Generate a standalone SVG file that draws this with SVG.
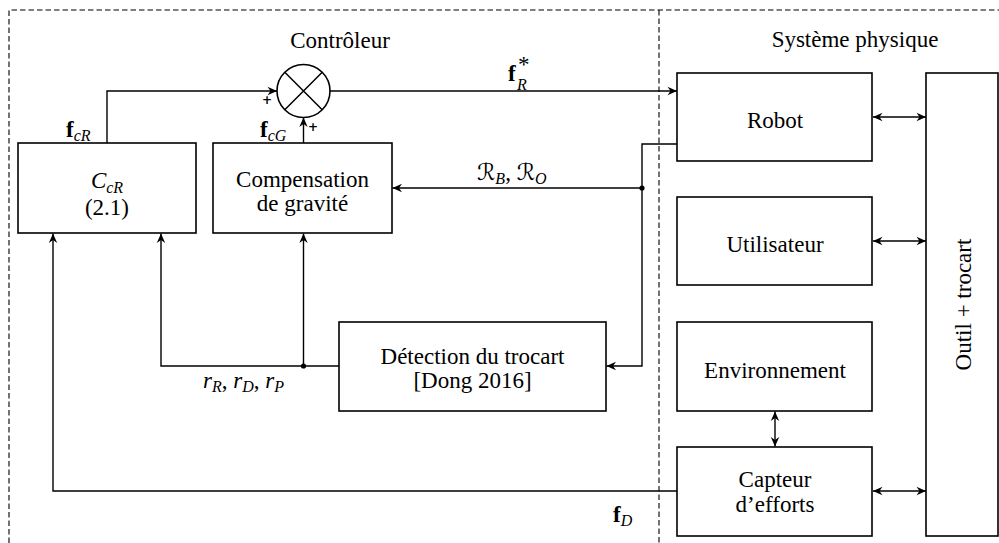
<svg xmlns="http://www.w3.org/2000/svg" width="999" height="543" viewBox="0 0 999 543" font-family="'Times New Roman', Tinos, 'Liberation Serif', 'Noto Serif', 'Nimbus Roman', FreeSerif, 'DejaVu Serif', Times, serif">
<style>
text{font-size:23px;fill:#000}
.box{fill:#fff;stroke:#000;stroke-width:1.6}
.c{text-anchor:middle}
.w{fill:none;stroke:#000;stroke-width:1.4}
.dash{fill:none;stroke:#000;stroke-width:1.1;stroke-dasharray:5.5,3}
.it{font-style:italic}
.sub{font-size:16px;font-style:italic}
.bf{font-weight:bold}
.pl{font-size:12px;font-weight:bold;font-family:'DejaVu Sans',sans-serif}
</style>
<defs>
<marker id="ah" viewBox="-10 -5 11 10" refX="0" refY="0" markerWidth="11" markerHeight="10" orient="auto-start-reverse" markerUnits="userSpaceOnUse">
<path d="M0,0 L-9.5,-4.2 L-6.5,0 L-9.5,4.2 Z" fill="#000"/>
</marker>
</defs>
<g id="frame">
<path class="dash" d="M9,543 V10 H999"/>
<path class="dash" d="M659,10 V543"/>
<text class="c" x="340" y="48">Contrôleur</text>
<text class="c" x="855" y="47">Système physique</text>
</g>
<g id="connectors">
<path class="w" d="M107,143 V91 H277" marker-end="url(#ah)"/>
<path class="w" d="M303.5,143 V117.5" marker-end="url(#ah)"/>
<path class="w" d="M330,91 H677" marker-end="url(#ah)"/>
<path class="w" d="M677,144 H642 V366 H606.5" marker-end="url(#ah)"/>
<path class="w" d="M642,188 H392.5" marker-end="url(#ah)"/>
<path class="w" d="M339,366 H161 V233.5" marker-end="url(#ah)"/>
<path class="w" d="M303.5,366 V233.5" marker-end="url(#ah)"/>
<path class="w" d="M677,491 H53 V233.5" marker-end="url(#ah)"/>
<path class="w" d="M873,117 H926" marker-start="url(#ah)" marker-end="url(#ah)"/>
<path class="w" d="M873,241 H926" marker-start="url(#ah)" marker-end="url(#ah)"/>
<path class="w" d="M873,491 H926" marker-start="url(#ah)" marker-end="url(#ah)"/>
<path class="w" d="M775,411.5 V446.5" marker-start="url(#ah)" marker-end="url(#ah)"/>
<circle cx="642" cy="188" r="2.6" fill="#000"/>
<circle cx="303.5" cy="366" r="2.6" fill="#000"/>
<text x="66" y="137"><tspan class="bf">f</tspan><tspan class="sub" dy="4">cR</tspan></text>
<text x="260" y="137"><tspan class="bf">f</tspan><tspan class="sub" dy="4">cG</tspan></text>
<text x="508" y="81"><tspan class="bf">f</tspan></text>
<text x="518" y="72" font-size="12px">*</text>
<text x="517" y="90" class="sub">R</text>
<text x="477" y="180"><tspan class="it" font-family="'DejaVu Serif', 'DejaVu Sans', serif">ℛ</tspan><tspan class="sub" dy="4">B</tspan><tspan dy="-4">, </tspan><tspan class="it" font-family="'DejaVu Serif', 'DejaVu Sans', serif">ℛ</tspan><tspan class="sub" dy="4">O</tspan></text>
<text x="203" y="388"><tspan class="it">r</tspan><tspan class="sub" dy="4">R</tspan><tspan dy="-4">, </tspan><tspan class="it">r</tspan><tspan class="sub" dy="4">D</tspan><tspan dy="-4">, </tspan><tspan class="it">r</tspan><tspan class="sub" dy="4">P</tspan></text>
<text x="613" y="522"><tspan class="bf">f</tspan><tspan class="sub" dy="4">D</tspan></text>
<text class="pl" x="262" y="104">+</text>
<text class="pl" x="308" y="131">+</text>
</g>
<g id="sum">
<circle cx="303.5" cy="91" r="26.5" fill="#fff" stroke="#000" stroke-width="1.6"/>
<path d="M284.8,72.3 L322.2,109.7 M322.2,72.3 L284.8,109.7" stroke="#000" stroke-width="1.5"/>
</g>
<g id="ccr">
<rect class="box" x="18" y="143" width="178" height="90"/>
<text class="c" x="107" y="188"><tspan class="it">C</tspan><tspan class="sub" dy="5">cR</tspan></text>
<text class="c" x="107" y="215">(2.1)</text>
</g>
<g id="gravite">
<rect class="box" x="213" y="143" width="179" height="90"/>
<text class="c" x="302.5" y="187">Compensation</text>
<text class="c" x="302.5" y="211">de gravité</text>
</g>
<g id="detection">
<rect class="box" x="339" y="322" width="267" height="89"/>
<text class="c" x="472.5" y="364">Détection du trocart</text>
<text class="c" x="472.5" y="388">[Dong 2016]</text>
</g>
<g id="robot">
<rect class="box" x="677" y="73" width="195" height="88"/>
<text class="c" x="775" y="128">Robot</text>
</g>
<g id="utilisateur">
<rect class="box" x="677" y="197" width="195" height="88"/>
<text class="c" x="775" y="252">Utilisateur</text>
</g>
<g id="environnement">
<rect class="box" x="677" y="322" width="195" height="89"/>
<text class="c" x="775" y="378">Environnement</text>
</g>
<g id="capteur">
<rect class="box" x="677" y="447" width="195" height="89"/>
<text class="c" x="775" y="487">Capteur</text>
<text class="c" x="775" y="512">d’efforts</text>
</g>
<g id="outil">
<rect class="box" x="926" y="73" width="72" height="463"/>
<text class="c" transform="translate(971,304.5) rotate(-90)">Outil + trocart</text>
</g>
</svg>
